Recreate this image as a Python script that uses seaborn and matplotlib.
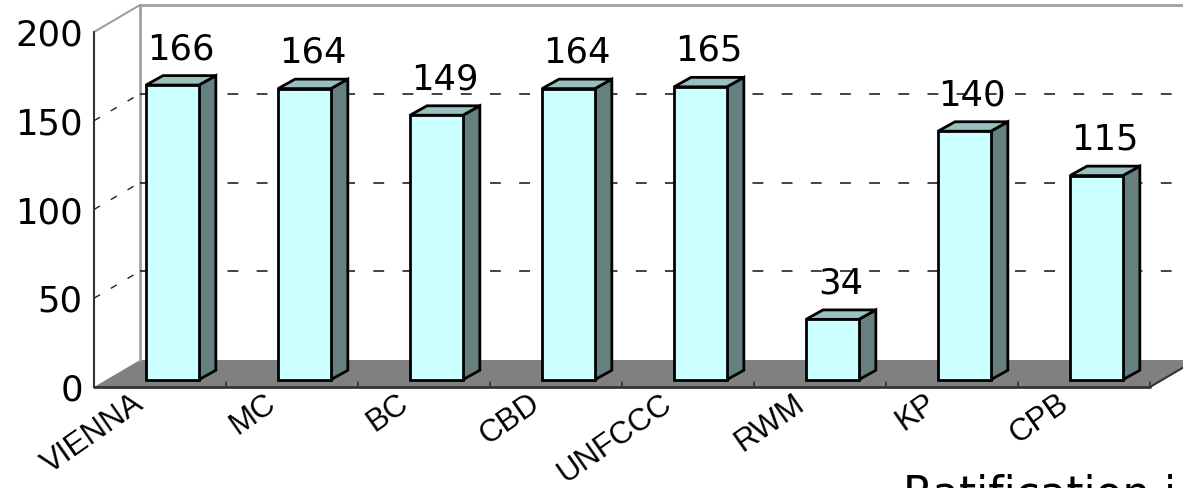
import numpy as np
import matplotlib
matplotlib.use("Agg")
import matplotlib.pyplot as plt
import seaborn as sns
from matplotlib.patches import Polygon
from matplotlib.transforms import ScaledTranslation

# data
treaties = ["VIENNA", "MC", "BC", "CBD", "UNFCCC", "RWM", "KP", "CPB"]
ratifications = [166, 164, 149, 164, 165, 34, 140, 115]
y_ticks = [0, 50, 100, 150, 200]

# colours
FRONT = "#CCFFFF"
SIDE = "#668080"
TOP = "#99C0C0"
FLOOR = "#808080"

sns.set_style("white")
plt.rcParams["font.family"] = ["DejaVu Sans"]

W, H = 1183, 488
fig = plt.figure(figsize=(W / 100, H / 100), dpi=100)
# front plane of the 3d box: x -0.5..7.5, y 0..200
ax = fig.add_axes([94 / W, 101 / H, 1056 / W, 355 / H])

px_x = 1056 / 8     # pixels per category
px_y = 355 / 200    # pixels per unit
# oblique depth of the box (back wall offset) in data units
WX, WY = 46 / px_x, 27 / px_y
# bars sit a bit behind the front plane, and have some depth themselves
BX, BY = 0.27 * WX, 0.27 * WY
DX, DY = 0.37 * WX, 0.35 * WY

sns.barplot(
    x=treaties,
    y=ratifications,
    color=FRONT,
    saturation=1,
    width=0.4,
    edgecolor="black",
    linewidth=2,
    ax=ax,
    zorder=5,
)

# push bars back into the box and add side / top faces
for bar, v in zip(ax.patches, ratifications):
    bar.set_x(bar.get_x() + BX)
    bar.set_y(BY)
    bar.set_clip_on(False)
    x0 = bar.get_x()
    x1 = x0 + bar.get_width()
    y0 = BY
    y1 = BY + v
    side = Polygon(
        [(x1, y0), (x1 + DX, y0 + DY), (x1 + DX, y1 + DY), (x1, y1)],
        closed=True, facecolor=SIDE, edgecolor="black", linewidth=2,
        zorder=4, clip_on=False, joinstyle="miter",
    )
    top = Polygon(
        [(x0, y1), (x1, y1), (x1 + DX, y1 + DY), (x0 + DX, y1 + DY)],
        closed=True, facecolor=TOP, edgecolor="black", linewidth=2,
        zorder=4, clip_on=False, joinstyle="miter",
    )
    ax.add_patch(side)
    ax.add_patch(top)
    ax.text(
        (x0 + x1) / 2 + 8 / px_x, y1 + 19 / px_y, f"{v}",
        ha="center", va="bottom", fontsize=25.5, color="black", zorder=6,
    )

# floor
floor = Polygon(
    [(-0.5, 0), (7.5, 0), (7.5 + WX, WY), (-0.5 + WX, WY)],
    closed=True, facecolor=FLOOR, edgecolor="none", zorder=1, clip_on=False,
)
ax.add_patch(floor)
ax.plot([-0.5, 7.5], [0, 0], color="#333333", lw=2, zorder=2, clip_on=False)
ax.plot([7.5, 7.5 + WX], [0, WY], color="#333333", lw=1.5, zorder=2, clip_on=False)
for b in np.arange(-0.5, 8, 1):
    ax.plot([b, b], [0, 5 / px_y], color="#333333", lw=1.2, zorder=2, clip_on=False)

# walls
wall_kw = dict(color="#A0A0A0", lw=2, zorder=1, clip_on=False)
ax.plot([-0.5 + WX, -0.5 + WX], [WY, 200 + WY], **wall_kw)
ax.plot([-0.5 + WX, 8.5 + WX], [200 + WY, 200 + WY], **wall_kw)
ax.plot([-0.5, -0.5 + WX], [200, 200 + WY], color="#A0A0A0", lw=1.5, zorder=1, clip_on=False)
ax.plot([-0.5, -0.5], [0, 200], color="#333333", lw=1.5, zorder=2, clip_on=False)

# dashed gridlines on back and side wall
grid_kw = dict(color="#222222", lw=1.2, dashes=(6.5, 11), zorder=1, clip_on=False)
for v in y_ticks[1:-1]:
    ax.plot([-0.5 + WX, 8.5 + WX], [v + WY, v + WY], **grid_kw)
    ax.plot([-0.5, -0.5 + WX], [v, v + WY], color="#222222", lw=1,
            dashes=(5, 9), zorder=1, clip_on=False)

ax.set_xlim(-0.5, 7.5)
ax.set_ylim(0, 200)
ax.set_yticks(y_ticks)
ax.set_yticklabels([str(t) for t in y_ticks], fontsize=25.5, color="black")
ax.tick_params(axis="y", length=0, pad=8)
ax.set_xticks(range(len(treaties)))
ax.set_xticklabels(treaties, fontsize=22.5, family="Liberation Sans", color="black",
                   rotation=35, ha="right", va="center", rotation_mode="anchor")
ax.tick_params(axis="x", length=0, pad=10)
shift = ScaledTranslation(-19 / 100, 0, fig.dpi_scale_trans)
for lab in ax.get_xticklabels():
    lab.set_transform(lab.get_transform() + shift)
ax.set_xlabel("")
ax.set_ylabel("")
for s in ax.spines.values():
    s.set_visible(False)
ax.patch.set_visible(False)

fig.text(903 / W, (H - 474) / H, "Ratification i", fontsize=31.5,
         ha="left", va="top", color="black")

fig.savefig("out.png", dpi=100)
plt.close(fig)
